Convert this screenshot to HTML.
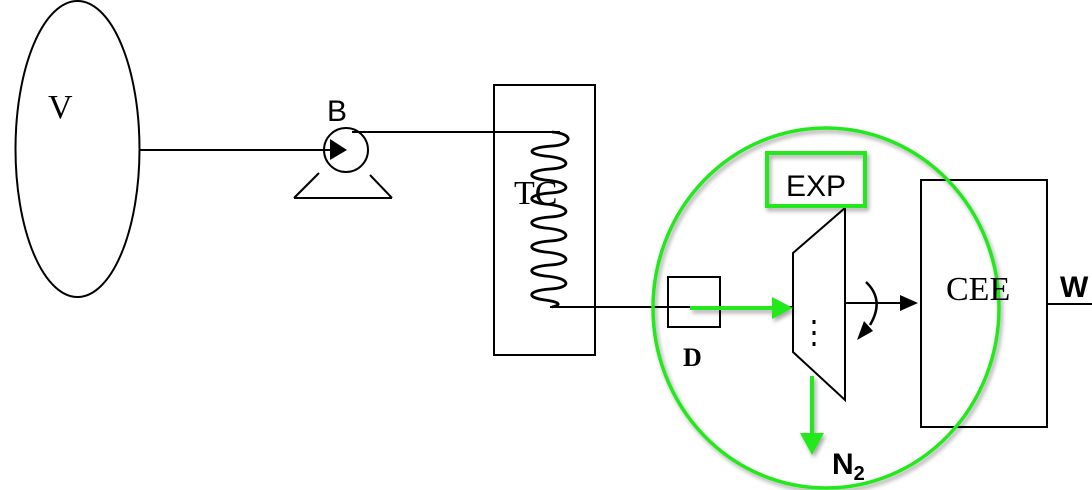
<!DOCTYPE html>
<html><head><meta charset="utf-8"><style>
html,body{margin:0;padding:0;background:#fff;width:1092px;height:490px;overflow:hidden}
text{font-family:"Liberation Serif",serif}
</style></head><body>
<svg width="1092" height="490" viewBox="0 0 1092 490" xmlns="http://www.w3.org/2000/svg">
<defs>
<filter id="sh" x="-10%" y="-10%" width="130%" height="130%"><feDropShadow dx="2" dy="3" stdDeviation="2" flood-color="#000" flood-opacity="0.35"/></filter>
</defs>
<g fill="none" stroke="#000" stroke-width="2">
<ellipse cx="77.5" cy="149" rx="62" ry="148"/>
<line x1="140" y1="150" x2="330" y2="150"/>
<circle cx="346" cy="150" r="22"/>
<line x1="319" y1="173" x2="294" y2="198"/>
<line x1="294" y1="198" x2="392" y2="198"/>
<line x1="392" y1="198" x2="370" y2="175"/>
<line x1="352" y1="132" x2="560" y2="132"/>
<rect x="494" y="85" width="101" height="270"/>
<path stroke-width="2.8" d="M552,132 C575,134 572,145 552,146 C525,148 528,154 545,156 C572,158 572,168 550,169 C525,171 528,178 545,180 C572,182 572,192 550,193 C525,195 528,202 545,204 C572,206 572,216 550,217 C525,219 528,226 545,228 C572,230 572,240 550,241 C525,243 528,250 545,252 C572,254 572,264 550,265 C525,267 528,274 545,276 C572,278 572,288 550,289 C525,291 528,298 545,300 C560,302 562,305 552,307"/>
<line x1="550" y1="307" x2="793" y2="307"/>
<rect x="668" y="277" width="52" height="50"/>
<polygon points="793,253 845,208 845,400 793,352"/>
<line x1="845" y1="303" x2="905" y2="303"/>
<rect x="921" y="180" width="126" height="247"/>
<line x1="1047" y1="304" x2="1092" y2="304"/>
<path d="M866,282 Q885,300 870,325" stroke-width="2.5"/>
<line x1="814" y1="320" x2="814" y2="352" stroke-dasharray="4 7" stroke-width="3"/>
</g>
<polygon points="330,139 347,150 330,160" fill="#000"/>
<polygon points="900,295 918,303 900,311" fill="#000"/>
<polygon points="857,340 873,331 864,321" fill="#000"/>
<g filter="url(#sh)">
<ellipse cx="826" cy="308" rx="173" ry="180" fill="none" stroke="#22e81a" stroke-width="3.5"/>
<rect x="767" y="153" width="98" height="53" fill="none" stroke="#22e81a" stroke-width="4"/>
<line x1="690" y1="308" x2="775" y2="308" stroke="#22e81a" stroke-width="4"/>
<polygon points="772,297 793,308 772,319" fill="#22e81a"/>
<line x1="812" y1="376" x2="812" y2="438" stroke="#22e81a" stroke-width="4"/>
<polygon points="800,433 824,433 812,455" fill="#22e81a"/>
</g>
<g fill="#000">
<text x="48" y="118" style="font-size:34px">V</text>
<text x="327" y="121" style="font-size:30px;font-family:'Liberation Sans',sans-serif">B</text>
<text x="514" y="204" style="font-size:34px">TC</text>
<text x="786" y="196" style="font-size:30px;font-family:'Liberation Sans',sans-serif">EXP</text>
<text x="683" y="366" style="font-size:26px;font-weight:bold">D</text>
<text x="946" y="300" style="font-size:34px">CEE</text>
<text x="1060" y="297" style="font-size:30px;font-weight:bold;font-family:'Liberation Sans',sans-serif">W</text>
<text x="832" y="474" style="font-size:30px;font-weight:bold;font-family:'Liberation Sans',sans-serif">N<tspan style="font-size:20px" dy="6">2</tspan></text>
</g>
</svg>
</body></html>
